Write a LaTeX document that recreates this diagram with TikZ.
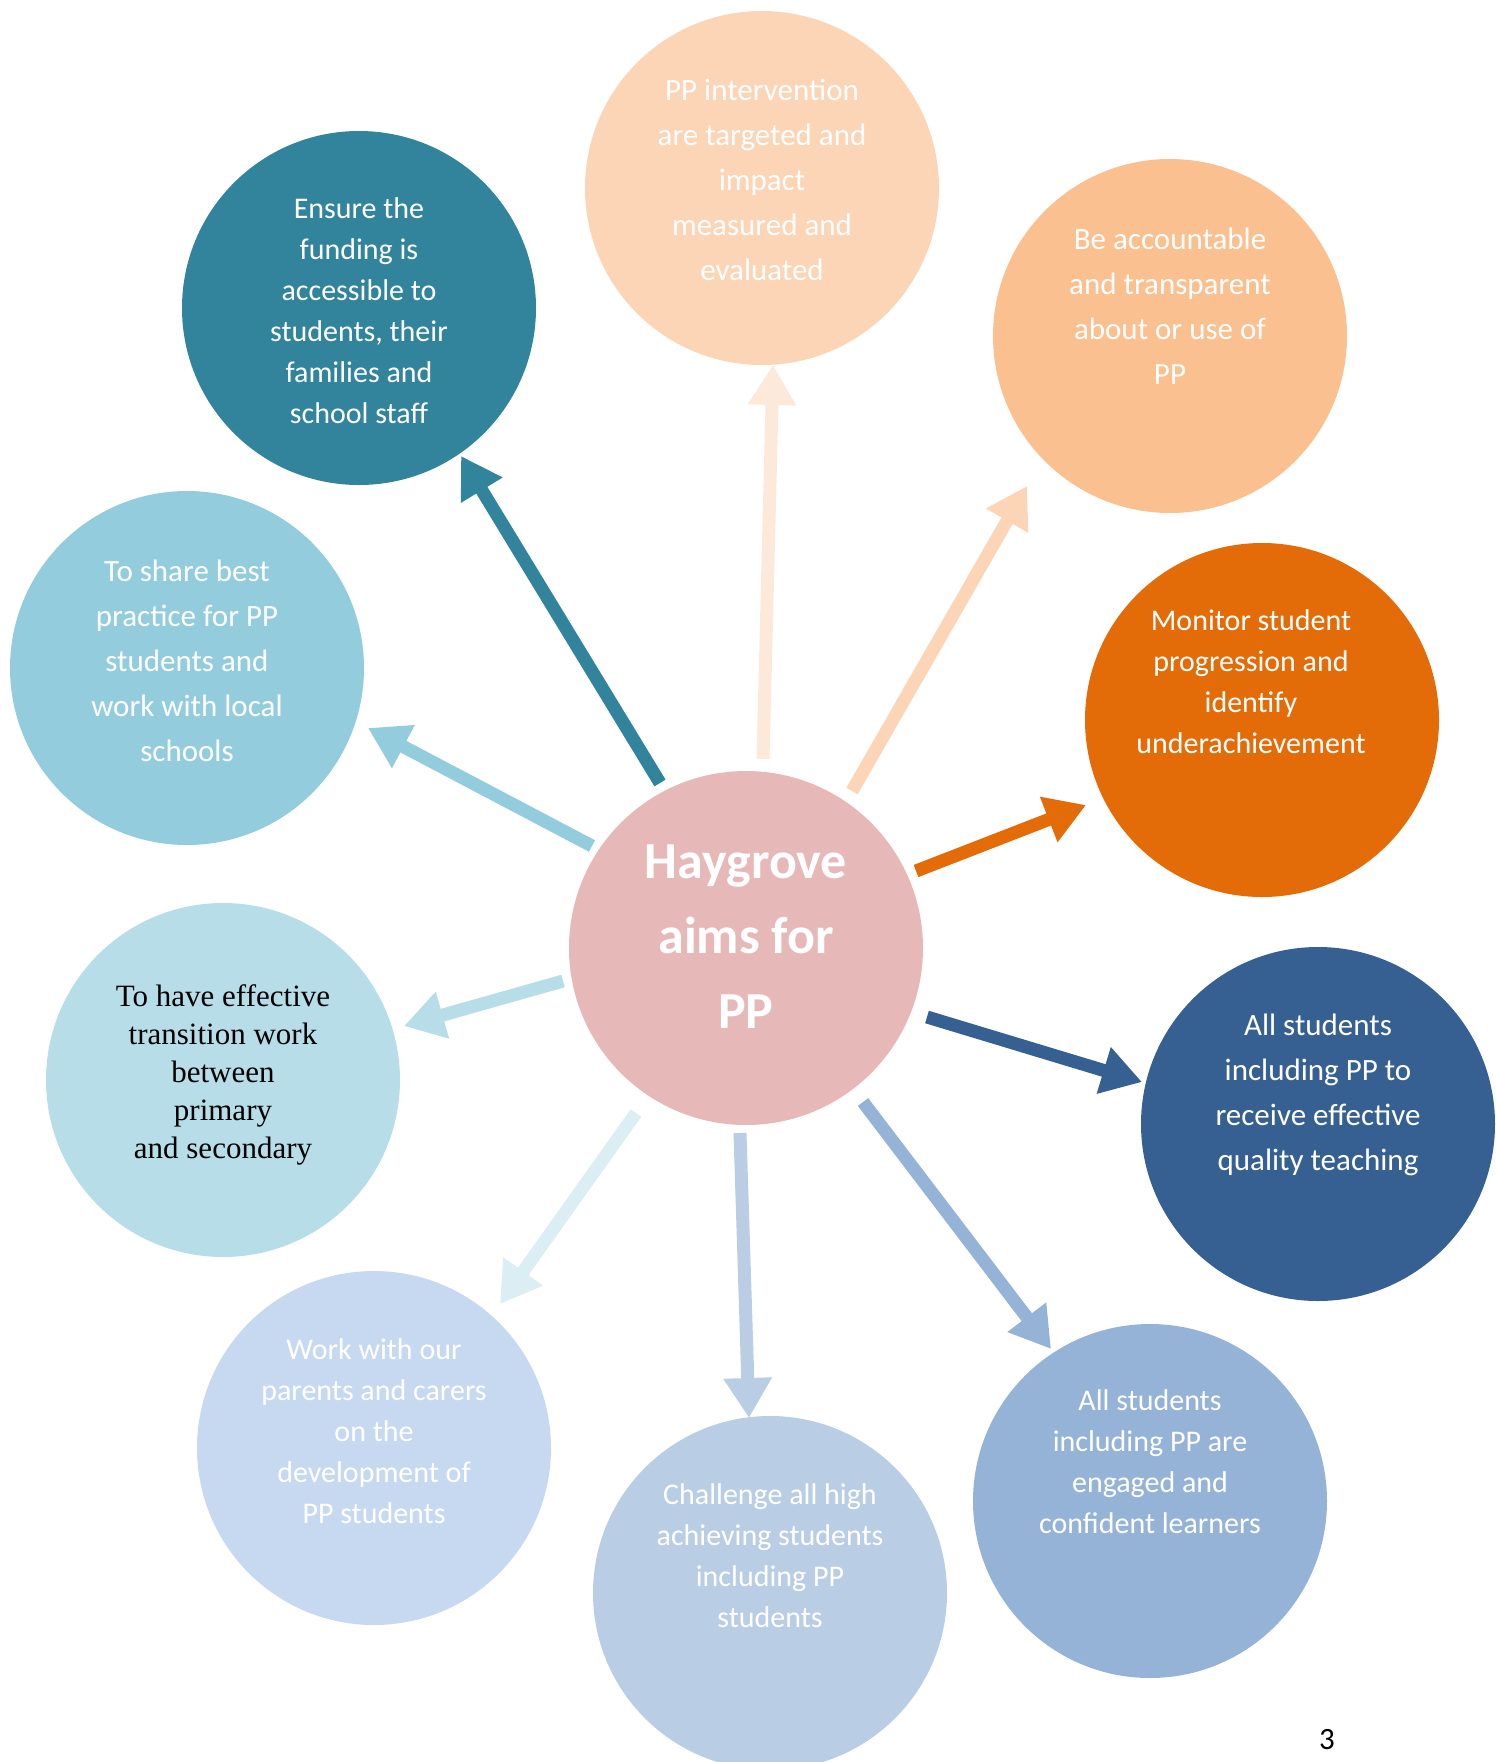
\documentclass[tikz,border=0pt]{standalone}
\usepackage{fontspec}
\setmainfont{Carlito}
\newfontfamily\serifx{Liberation Serif}
\usetikzlibrary{arrows.meta}
\definecolor{cteal}{HTML}{31849B}
\definecolor{cpeach}{HTML}{FBD5B5}
\definecolor{cpeachlt}{HTML}{FDE9D9}
\definecolor{capricot}{HTML}{FAC090}
\definecolor{corange}{HTML}{E36C09}
\definecolor{cpink}{HTML}{E6B9B8}
\definecolor{cnavy}{HTML}{366092}
\definecolor{csteel}{HTML}{95B3D7}
\definecolor{cpale}{HTML}{B9CDE5}
\definecolor{cpaler}{HTML}{C6D9F1}
\definecolor{cicy}{HTML}{B7DEE8}
\definecolor{csky}{HTML}{93CDDD}
\definecolor{cfrost}{HTML}{DBEEF4}
\begin{document}
\begin{tikzpicture}[x=1pt,y=-1pt,
  circ/.style={circle, minimum size=354pt, inner sep=0pt},
  txt/.style={align=center, text=white, font=\fontsize{30}{41}\selectfont},
  txtw/.style={align=center, text=white, font=\fontsize{31}{45}\selectfont},
  arr/.style={line width=13pt, -{Triangle[width=46pt,length=40pt]}}]
\useasboundingbox (0,0) rectangle (1496,1762);
% circles
\node[circ, fill=cpink]    (hub)   at (746,948) {};
\node[circ, fill=cpeach]   (top)   at (762,188) {};
\node[circ, fill=cteal]    (ens)   at (359,308) {};
\node[circ, fill=capricot] (acc)   at (1170,336) {};
\node[circ, fill=corange]  (mon)   at (1262,720) {};
\node[circ, fill=cnavy]    (qual)  at (1318,1124) {};
\node[circ, fill=csteel]   (eng)   at (1150,1501) {};
\node[circ, fill=cpale]    (chal)  at (770,1593) {};
\node[circ, fill=cpaler]   (par)   at (374,1448) {};
\node[circ, fill=cicy]     (trans) at (223,1080) {};
\node[circ, fill=csky]     (share) at (187,668) {};
% texts
\node[align=center, text=white, font=\fontsize{52}{75}\selectfont\bfseries] (hubt) at (746,937) {Haygrove\\aims for\\PP};
\node[txtw] (topt) at (762,180) {PP intervention\\are targeted and\\impact\\measured and\\evaluated};
\node[txt] (enst) at (359,311) {Ensure the\\funding is\\accessible to\\students, their\\families and\\school staff};
\node[txtw] (acct) at (1170,306) {Be accountable\\and transparent\\about or use of\\PP};
\node[txt] (mont) at (1251,682) {Monitor student\\progression and\\identify\\underachievement};
\node[txtw] (qualt) at (1318,1095) {All students\\including PP to\\receive effective\\quality teaching};
\node[txt] (engt) at (1150,1462) {All students\\including PP are\\engaged and\\confident learners};
\node[txt] (chalt) at (770,1556) {Challenge all high\\achieving students\\including PP\\students};
\node[txt] (part) at (374,1431) {Work with our\\parents and carers\\on the\\development of\\PP students};
\node[align=center, text=black, font=\serifx\fontsize{31}{38}\selectfont] (transt) at (223,1075) {To have effective\\transition work\\between\\primary\\and secondary};
\node[txtw] (sharet) at (187,661) {To share best\\practice for PP\\students and\\work with local\\schools};
\node[font=\fontsize{31}{36}\selectfont] (pg) at (1327,1740) {3};
% arrow endpoints
\coordinate (a1s) at (660,783);  \coordinate (a1e) at (461,456);
\coordinate (a2s) at (763,759);  \coordinate (a2e) at (773,365);
\coordinate (a3s) at (852,791);  \coordinate (a3e) at (1027,486);
\coordinate (a4s) at (916,871);  \coordinate (a4e) at (1086,805);
\coordinate (a5s) at (927,1017); \coordinate (a5e) at (1142,1082);
\coordinate (a6s) at (863,1102); \coordinate (a6e) at (1051,1349);
\coordinate (a7s) at (740,1133); \coordinate (a7e) at (749,1418);
\coordinate (a8s) at (636,1113); \coordinate (a8e) at (500,1304);
\coordinate (a9s) at (563,981);  \coordinate (a9e) at (404,1026);
\coordinate (a10s) at (592,846); \coordinate (a10e) at (368,728);
% arrows
\draw[arr, cteal]    (a1s) -- (a1e);
\draw[arr, cpeachlt] (a2s) -- (a2e);
\draw[arr, cpeach]   (a3s) -- (a3e);
\draw[arr, corange]  (a4s) -- (a4e);
\draw[arr, cnavy]    (a5s) -- (a5e);
\draw[arr, csteel]   (a6s) -- (a6e);
\draw[arr, cpale]    (a7s) -- (a7e);
\draw[arr, cfrost]   (a8s) -- (a8e);
\draw[arr, cicy]     (a9s) -- (a9e);
\draw[arr, csky]     (a10s) -- (a10e);
\end{tikzpicture}
\end{document}
